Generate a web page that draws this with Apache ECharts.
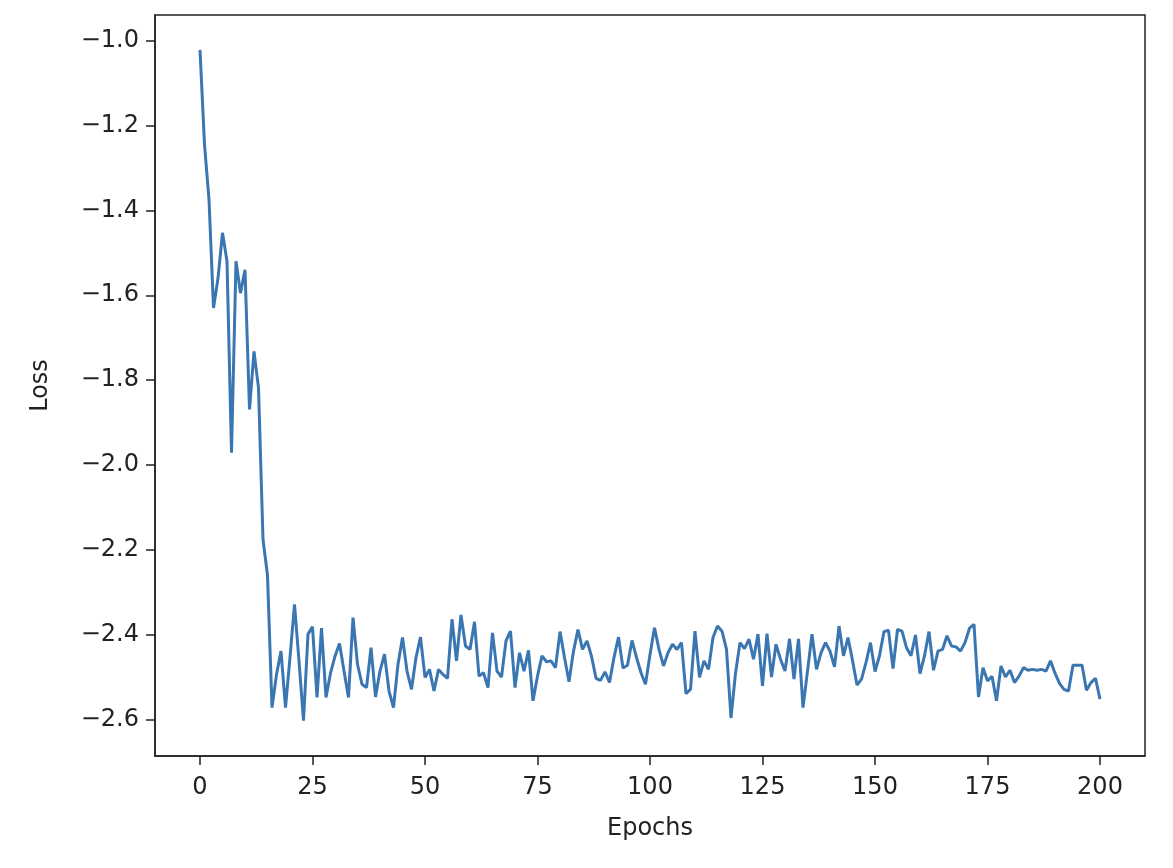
<!DOCTYPE html>
<html>
<head>
<meta charset="utf-8">
<title>Loss</title>
<script src="https://cdn.jsdelivr.net/npm/echarts@6/dist/echarts.min.js"></script>
<style>
  html, body { margin: 0; padding: 0; background: #fff; }
  #chart { width: 1173px; height: 868px; }
</style>
</head>
<body>
<div id="chart"></div>
<script>
// loss per epoch (epochs 0..200)
var lossValues = [
  -1.022, -1.245, -1.375, -1.630, -1.560, -1.453, -1.520, -1.971, -1.520, -1.595,
  -1.540, -1.869, -1.732, -1.818, -2.175, -2.260, -2.571, -2.493, -2.438, -2.571,
  -2.453, -2.328, -2.461, -2.602, -2.398, -2.381, -2.547, -2.384, -2.547, -2.490,
  -2.450, -2.420, -2.485, -2.547, -2.359, -2.469, -2.516, -2.524, -2.430, -2.546,
  -2.485, -2.445, -2.532, -2.571, -2.469, -2.406, -2.485, -2.528, -2.453, -2.405,
  -2.500, -2.481, -2.532, -2.481, -2.493, -2.502, -2.363, -2.461, -2.353, -2.426,
  -2.434, -2.369, -2.497, -2.489, -2.524, -2.395, -2.485, -2.499, -2.414, -2.391,
  -2.524, -2.442, -2.485, -2.436, -2.555, -2.497, -2.449, -2.463, -2.461, -2.477,
  -2.392, -2.453, -2.510, -2.438, -2.387, -2.434, -2.414, -2.450, -2.502, -2.507,
  -2.487, -2.512, -2.453, -2.405, -2.478, -2.471, -2.413, -2.453, -2.489, -2.516,
  -2.446, -2.383, -2.434, -2.473, -2.442, -2.422, -2.434, -2.418, -2.538, -2.528,
  -2.391, -2.500, -2.461, -2.481, -2.406, -2.379, -2.391, -2.434, -2.595, -2.490,
  -2.418, -2.432, -2.410, -2.457, -2.398, -2.520, -2.397, -2.499, -2.422, -2.457,
  -2.485, -2.409, -2.504, -2.409, -2.571, -2.485, -2.398, -2.481, -2.442, -2.418,
  -2.438, -2.475, -2.379, -2.449, -2.406, -2.460, -2.518, -2.504, -2.465, -2.418,
  -2.486, -2.449, -2.392, -2.389, -2.479, -2.387, -2.391, -2.430, -2.449, -2.400,
  -2.491, -2.449, -2.392, -2.483, -2.438, -2.434, -2.402, -2.426, -2.428, -2.438,
  -2.418, -2.384, -2.375, -2.546, -2.477, -2.508, -2.497, -2.555, -2.473, -2.499,
  -2.483, -2.512, -2.497, -2.477, -2.483, -2.481, -2.483, -2.481, -2.485, -2.461,
  -2.490, -2.514, -2.528, -2.532, -2.471, -2.471, -2.471, -2.530, -2.512, -2.502,
  -2.551
];
var xTicks = [0, 25, 50, 75, 100, 125, 150, 175, 200];
var yTicks = [-2.6, -2.4, -2.2, -2.0, -1.8, -1.6, -1.4, -1.2, -1.0];

var points = [];
for (var i = 0; i < lossValues.length; i++) {
  points.push([i, lossValues[i]]);
}

var textColor = '#222';
var lineColor = '#222';
var font = 'DejaVu Sans';

var option = {
  animation: false,
  grid: {
    left: 155,
    right: 28,
    top: 15,
    bottom: 112,
    show: true,
    borderColor: lineColor,
    borderWidth: 1.5
  },
  xAxis: {
    type: 'value',
    min: -10,
    max: 210,
    name: 'Epochs',
    nameLocation: 'middle',
    nameGap: 61,
    nameTextStyle: { color: textColor, fontFamily: font, fontSize: 24 },
    splitLine: { show: false },
    axisLine: { show: true, onZero: false, lineStyle: { color: lineColor, width: 1.5 } },
    axisTick: { show: true, customValues: xTicks, length: 9, lineStyle: { color: lineColor, width: 1.5 } },
    axisLabel: {
      customValues: xTicks,
      margin: 20,
      color: textColor,
      fontFamily: font,
      fontSize: 24
    }
  },
  yAxis: {
    type: 'value',
    min: -2.685,
    max: -0.94,
    name: 'Loss',
    nameLocation: 'middle',
    nameGap: 102,
    nameTextStyle: { color: textColor, fontFamily: font, fontSize: 24 },
    splitLine: { show: false },
    axisLine: { show: true, onZero: false, lineStyle: { color: lineColor, width: 1.5 } },
    axisTick: { show: true, customValues: yTicks, length: 9, lineStyle: { color: lineColor, width: 1.5 } },
    axisLabel: {
      customValues: yTicks,
      margin: 16,
      color: textColor,
      fontFamily: font,
      fontSize: 24,
      formatter: function (v) {
        return (v < 0 ? '\u2212' : '') + Math.abs(v).toFixed(1);
      }
    }
  },
  series: [{
    type: 'line',
    data: points,
    showSymbol: false,
    lineStyle: { color: '#3a76b2', width: 3 },
    itemStyle: { color: '#3a76b2' }
  }]
};

echarts.init(document.getElementById('chart')).setOption(option);
</script>
</body>
</html>
